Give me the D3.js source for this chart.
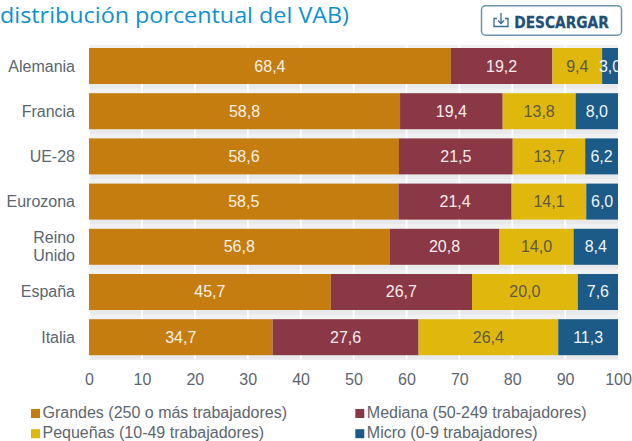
<!DOCTYPE html>
<html><head><meta charset="utf-8">
<script src="https://cdn.jsdelivr.net/npm/d3@7/dist/d3.min.js"></script>
<style>html,body{margin:0;padding:0;background:#fff;overflow:hidden}svg{display:block}text{font-family:"Liberation Sans",Arial,sans-serif}</style>
</head><body><svg id="c" width="632" height="441"></svg>
<script>
const categories=["Alemania","Francia","UE-28","Eurozona","Reino Unido","España","Italia"];
const grandes=[68.4,58.8,58.6,58.5,56.8,45.7,34.7];
const mediana=[19.2,19.4,21.5,21.4,20.8,26.7,27.6];
const pequenas=[9.4,13.8,13.7,14.1,14.0,20.0,26.4];
const micro=[3.0,8.0,6.2,6.0,8.4,7.6,11.3];
const seriesNames=["Grandes (250 o más trabajadores)","Mediana (50-249 trabajadores)","Pequeñas (10-49 trabajadores)","Micro (0-9 trabajadores)"];
const seriesValues=[grandes,mediana,pequenas,micro];
const seriesColors=["#c47d0e","#8a3846","#e0b80d","#1c5a88"];
const labelColors=["#f6f0e6","#f6ecee","#5c5a45","#f0f4f8"];
const xTicks=[0,10,20,30,40,50,60,70,80,90,100];
const titleText="distribución porcentual del VAB)";
const svg=d3.select("#c");
const x=d3.scaleLinear().domain([0,100]).range([89,618]);
const y=d3.scaleBand().domain(categories).range([48,355.2]).paddingInner(0.2035);
svg.append("text").attr("x",0).attr("y",23).style("font-family","'Open Sans',sans-serif").attr("font-size",22.5).attr("textLength",349).attr("lengthAdjust","spacingAndGlyphs").attr("fill","#0e92cf").text(titleText);
// button
const b=svg.append("g");
b.append("rect").attr("x",481.5).attr("y",5.75).attr("width",140).attr("height",29.5).attr("rx",4).attr("fill","#fff").attr("stroke","#6c93b0").attr("stroke-width",1.5);
b.append("path").attr("d","M497 18.5h-3v8h14v-8h-3 M501 13v10 M498 20.5l3 3 3-3").attr("fill","none").attr("stroke","#336c94").attr("stroke-width",1.3);
b.append("text").attr("x",514.3).attr("y",28.3).style("font-family","'DejaVu Sans',sans-serif").attr("font-size",15).attr("font-weight",700).attr("textLength",94.5).attr("lengthAdjust","spacingAndGlyphs").attr("fill","#1f5077").attr("stroke","#1f5077").attr("stroke-width",0.3).text("DESCARGAR");
// grid band
svg.append("rect").attr("x",x(0)).attr("y",45).attr("width",x(100)-x(0)).attr("height",313).attr("fill","#eff1f3");
categories.forEach(c=>{
  svg.append("rect").attr("x",x(0)).attr("y",y(c)+y.bandwidth()).attr("width",x(100)-x(0)).attr("height",4.5).attr("fill","#e8e9eb");
});
svg.selectAll(".g").data(xTicks.slice(0,-1)).join("rect").attr("x",d=>x(d)-0.75).attr("y",44).attr("width",1.75).attr("height",315).attr("fill","#fff");
// bars
categories.forEach((c,i)=>{
  let acc=0;
  seriesValues.forEach((s,j)=>{
    const v=s[i],x0=x(acc),x1=x(Math.min(acc+v,100));
    svg.append("rect").attr("x",x0).attr("y",y(c)).attr("width",x1-x0).attr("height",y.bandwidth()).attr("fill",seriesColors[j]);
    acc+=v;
  });
});
svg.append("clipPath").attr("id","cl").append("rect").attr("x",0).attr("y",0).attr("width",618).attr("height",441);
const lab=svg.append("g").attr("clip-path","url(#cl)");
categories.forEach((c,i)=>{
  let acc=0;
  seriesValues.forEach((s,j)=>{
    const v=s[i];
    lab.append("text").attr("x",x(acc+v/2)).attr("y",y(c)+y.bandwidth()/2+5.5).attr("text-anchor","middle").attr("font-size",16).attr("fill",labelColors[j]).text(d3.format(".1f")(v).replace(".",","));
    acc+=v;
  });
});
// category labels
categories.forEach(c=>{
  const cy=y(c)+y.bandwidth()/2;
  const lines=c==="Reino Unido"?["Reino","Unido"]:[c];
  lines.forEach((l,k)=>svg.append("text").attr("x",75).attr("y",cy+5.5+(k-(lines.length-1)/2)*18).attr("text-anchor","end").attr("font-size",16).attr("fill","#5a6670").text(l));
});
// x axis
const ax=svg.append("g").attr("transform","translate(0,384.5)").call(d3.axisBottom(x).tickValues(xTicks).tickSize(0).tickPadding(0).tickFormat(d3.format("d")));
ax.select(".domain").remove();
ax.selectAll("text").attr("y",0).attr("dy",0).attr("font-size",16).attr("fill","#5c6670").style("font-family","'Liberation Sans',sans-serif");
// legend
const lx=[31,355.3],ly=[409,429.2];
seriesNames.forEach((n,i)=>{
  const px=lx[i%2],py=ly[Math.floor(i/2)];
  svg.append("rect").attr("x",px).attr("y",py).attr("width",9).attr("height",9).attr("fill",seriesColors[i]);
  svg.append("text").attr("x",px+11.5).attr("y",py+9.2).attr("font-size",16).attr("fill","#5c6670").text(n);
});
</script></body></html>
